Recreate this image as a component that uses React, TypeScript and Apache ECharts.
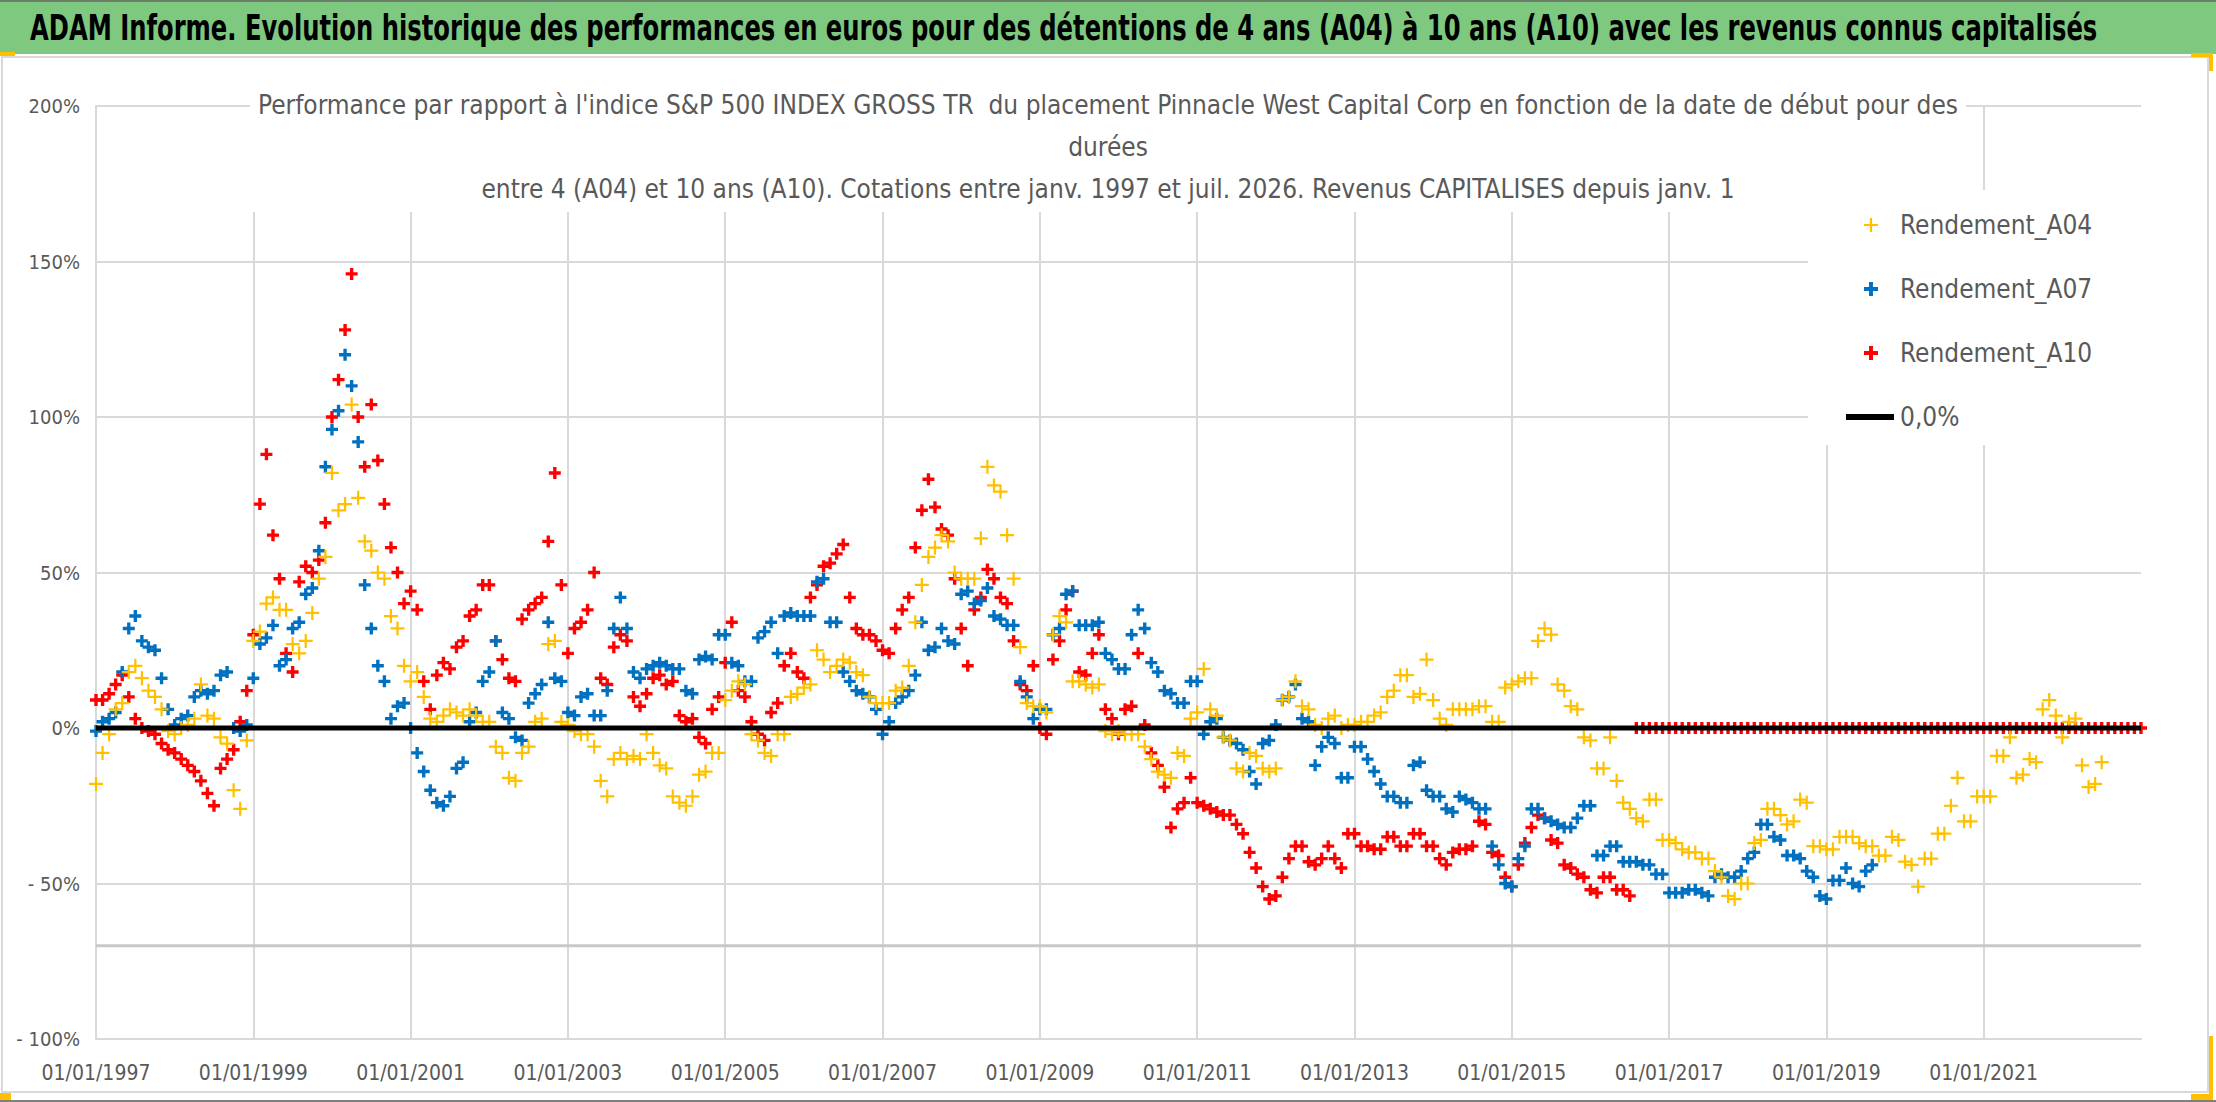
import React, { useEffect, useRef } from 'react';
import * as echarts from 'echarts';

// monthly values (%), first point = 01/01/1997
const START_YEAR = 1997;

const A04_VALUES = [
  -18, -8, -2, 6, 8, 18, 20, 16, 12, 10, 6, -1,
  -2, 0, 1, 3, 14, 4, 3, -3, -5, -20, -26, -4,
  28, 31, 40, 42, 38, 38, 27, 24, 28, 37, 48, 55,
  82, 70, 72, 104, 74, 60, 57, 50, 48, 36, 32, 20,
  15, 18, 10, 3, 2, 4, 6, 5, 4, 6, 4, 2,
  2, -6, -8, -16, -17, -8, -6, 2, 3, 27, 28, 2,
  1, -1, -2, -2, -6, -17, -22, -10, -8, -10, -9, -10,
  -2, -8, -12, -13, -22, -24, -25, -22, -15, -14, -8, -8,
  9, 12, 15, 14, -2, -4, -8, -9, -2, -2, 10, 11,
  13, 14, 25, 22, 18, 20, 22, 21, 18, 17, 10, 8,
  8, 8, 12, 13, 20, 34, 46, 55, 58, 62, 60, 50,
  48, 48, 48, 61, 84, 78, 76, 62, 48, 26, 8, 7,
  7, 5, 30, 36, 34, 15, 15, 14, 13, 14, -1, -2,
  -1, -2, -2, -2, -6, -10, -14, -15, -16, -8, -9, 3,
  5, 19, 6, 4, -3, -4, -13, -14, -8, -9, -13, -14,
  -13, 9, 10, 15, 7, 6, 1, 0, 3, 4, 0, 1,
  1, 2, 2, 4, 5, 10, 12, 17, 17, 10, 11, 22,
  9, 3, 1, 6, 6, 6, 6, 7, 7, 2, 2, 13,
  14, 15, 16, 16, 28, 32, 30, 14, 12, 7, 6, -3,
  -4, -13, -13, -3, -17, -24, -26, -29, -30, -23, -23, -36,
  -36, -37, -39, -40, -40, -42, -42, -46, -48, -54, -55, -50,
  -50, -37, -36, -26, -26, -28, -31, -30, -23, -24, -38, -38,
  -39, -39, -35, -35, -35, -37, -38, -38, -41, -41, -35, -36,
  -43, -44, -51, -42, -42, -34, -34, -25, -16, -30, -30, -22,
  -22, -22, -9, -9, -3, -16, -15, -10, -11, 6, 9, 4,
  -3, 2, 3, -12, -19, -18, -11,
];

const A07_VALUES = [
  -1, 2, 3, 5, 18, 32, 36, 28, 26, 25, 16, 6,
  1, 3, 4, 10, 12, 11, 12, 17, 18, 0, -1, 1,
  16, 27, 29, 33, 20, 22, 32, 34, 43, 45, 57, 84,
  96, 102, 120, 110, 92, 46, 32, 20, 15, 3, 7, 8,
  0, -8, -14, -20, -24, -25, -22, -13, -11, 2, 5, 15,
  18, 28, 5, 3, -3, -4, 8, 11, 14, 34, 16, 15,
  5, 4, 10, 11, 4, 4, 12, 32, 42, 32, 18, 16,
  19, 20, 21, 20, 19, 19, 12, 11, 22, 23, 22, 30,
  30, 21, 20, 15, 15, 29, 31, 34, 24, 36, 37, 36,
  36, 36, 47, 48, 34, 34, 18, 15, 12, 11, 10, 6,
  -2, 2, 8, 10, 12, 17, 34, 25, 26, 32, 28, 27,
  43, 44, 40, 41, 45, 36, 35, 33, 33, 15, 10, 3,
  6, 6, 30, 32, 43, 44, 33, 33, 33, 34, 24, 22,
  19, 19, 30, 38, 32, 21, 18, 12, 11, 8, 8, 15,
  15, -2, 2, 3, -3, -4, -5, -7, -14, -18, -5, -4,
  1, 9, 10, 14, 3, 2, -12, -6, -3, -5, -16, -16,
  -6, -6, -10, -14, -18, -22, -22, -24, -24, -12, -11, -20,
  -22, -22, -26, -27, -22, -23, -24, -26, -26, -38, -44, -50,
  -51, -42, -38, -26, -26, -29, -30, -31, -32, -32, -29, -25,
  -25, -41, -41, -38, -38, -43, -43, -43, -44, -44, -47, -47,
  -53, -53, -53, -52, -52, -53, -54, -48, -47, -48, -48, -46,
  -42, -40, -31, -31, -35, -36, -41, -41, -42, -46, -48, -54,
  -55, -49, -49, -45, -50, -51, -46, -44,
];

const A10_VALUES = [
  9, 9, 11, 14, 17, 10, 3, 0, -1, -2, -5, -7,
  -8, -10, -12, -14, -17, -21, -25, -13, -10, -7, 2, 12,
  30, 72, 88, 62, 48, 24, 18, 47, 52, 50, 54, 66,
  100, 112, 128, 146, 100, 84, 104, 86, 72, 58, 50, 40,
  44, 38, 15, 6, 17, 21, 19, 26, 28, 36, 38, 46,
  46, 28, 22, 16, 15, 35, 38, 40, 42, 60, 82, 46,
  24, 32, 34, 38, 50, 16, 14, 26, 30, 28, 10, 7,
  11, 16, 17, 14, 15, 4, 2, 3, -3, -5, 6, 10,
  21, 34, 12, 10, 2, -2, -4, 5, 8, 20, 24, 18,
  16, 42, 46, 52, 53, 56, 59, 42, 32, 30, 30, 28,
  25, 24, 32, 38, 42, 58, 70, 80, 71, 64, 62, 48,
  32, 20, 38, 42, 51, 48, 42, 40, 28, 14, 12, 20,
  0, -2, 22, 28, 38, 44, 18, 17, 24, 30, 6, 3,
  -2, 6, 7, 24, 1, -8, -12, -19, -32, -26, -24, -16,
  -24, -25, -26, -27, -28, -28, -31, -34, -40, -45, -51, -55,
  -54, -48, -42, -38, -38, -43, -44, -42, -38, -42, -45, -34,
  -34, -38, -38, -39, -39, -35, -35, -38, -38, -34, -34, -38,
  -38, -42, -44, -40, -39, -39, -38, -30, -31, -40, -41, -48,
  -51, -44, -37, -32, -28, -29, -36, -37, -44, -45, -47, -48,
  -52, -53, -48, -48, -52, -52, -54, 0, 0, 0, 0, 0,
  0, 0, 0, 0, 0, 0, 0, 0, 0, 0, 0, 0,
  0, 0, 0, 0, 0, 0, 0, 0, 0, 0, 0, 0,
  0, 0, 0, 0, 0, 0, 0, 0, 0, 0, 0, 0,
  0, 0, 0, 0, 0, 0, 0, 0, 0, 0, 0, 0,
  0, 0, 0, 0, 0, 0, 0, 0, 0, 0, 0, 0,
  0, 0, 0, 0, 0, 0, 0, 0, 0, 0, 0, 0,
  0,
];

const ZERO_LINE = [[1997, 0], [2023, 0]];
const LOW_LINE = [[1997, -70], [2023, -70]];

const HEADER =
  'ADAM Informe. Evolution historique des performances en euros pour des détentions de 4 ans (A04) à 10 ans (A10) avec les revenus connus capitalisés';
const TITLE =
  "Performance par rapport à l'indice S&P 500 INDEX GROSS TR  du placement Pinnacle West Capital Corp en fonction de la date de début pour des\ndurées\nentre 4 (A04) et 10 ans (A10). Cotations entre janv. 1997 et juil. 2026. Revenus CAPITALISES depuis janv. 1";

const FONT = "'Liberation Sans Narrow', 'DejaVu Sans Condensed', sans-serif";
const GREY_TEXT = '#595959';
const GRID_COLOR = '#d9d9d9';

const PLUS_THIN = 'path://M4.2,0h1.6v4.2h4.2v1.6h-4.2v4.2h-1.6v-4.2h-4.2v-1.6h4.2z';
const PLUS_BOLD = 'path://M3.6,0h2.8v3.6h3.6v2.8h-3.6v3.6h-2.8v-3.6h-3.6v-2.8h3.6z';

const toPoints = (vals: number[]) => vals.map((v, i) => [START_YEAR + i / 12, v]);

const App: React.FC = () => {
  const chartRef = useRef<HTMLDivElement>(null);

  useEffect(() => {
    if (!chartRef.current) return;
    const chart = echarts.init(chartRef.current, undefined, { renderer: 'svg' });

    const option = {
      animation: false,
      backgroundColor: '#ffffff',
      title: {
        text: TITLE,
        left: 'center',
        top: 82,
        padding: [2, 8],
        backgroundColor: '#ffffff',
        textStyle: {
          fontFamily: FONT,
          fontWeight: 'normal',
          fontSize: 26,
          lineHeight: 42,
          color: GREY_TEXT,
        },
      },
      legend: [
        {
          data: [
            { name: 'Rendement_A04', icon: PLUS_THIN },
            { name: 'Rendement_A07', icon: PLUS_BOLD },
            { name: 'Rendement_A10', icon: PLUS_BOLD },
          ],
          orient: 'vertical',
          left: 1864,
          top: 212,
          padding: 0,
          itemWidth: 14,
          itemHeight: 14,
          itemGap: 38,
          selectedMode: false,
          textStyle: {
            fontFamily: FONT,
            fontSize: 26,
            lineHeight: 26,
            color: GREY_TEXT,
            padding: [0, 0, 0, 17],
          },
        },
        {
          data: [{ name: '0,0%', icon: 'rect' }],
          orient: 'vertical',
          left: 1846,
          top: 404,
          padding: 0,
          itemWidth: 48,
          itemHeight: 6,
          selectedMode: false,
          textStyle: {
            fontFamily: FONT,
            fontSize: 26,
            lineHeight: 26,
            color: GREY_TEXT,
            padding: [0, 0, 0, 1],
          },
        },
      ],
      grid: { left: 96, right: 75, top: 106, bottom: 63 },
      xAxis: {
        type: 'value',
        min: 1997,
        max: 2023,
        interval: 2,
        axisLine: { show: true, onZero: false, lineStyle: { color: GRID_COLOR, width: 2 } },
        axisTick: { show: false },
        axisLabel: {
          margin: 23,
          fontFamily: FONT,
          fontSize: 21,
          color: GREY_TEXT,
          formatter: (v: number) => (v < 2023 ? '01/01/' + v : ''),
        },
        splitLine: { show: true, showMaxLine: false, lineStyle: { color: GRID_COLOR, width: 2 } },
      },
      yAxis: {
        type: 'value',
        min: -100,
        max: 200,
        interval: 50,
        axisLine: { show: true, lineStyle: { color: GRID_COLOR, width: 2 } },
        axisTick: { show: false },
        axisLabel: {
          margin: 16,
          fontFamily: FONT,
          fontSize: 20,
          color: GREY_TEXT,
          formatter: (v: number) => (v < 0 ? '- ' + Math.abs(v) + '%' : v + '%'),
        },
        splitLine: { show: true, lineStyle: { color: GRID_COLOR, width: 2 } },
      },
      graphic: [
        { type: 'rect', z: 1, shape: { x: 1808, y: 190, width: 333, height: 255 }, style: { fill: '#ffffff' } },
        { type: 'rect', z: 0, silent: true, shape: { x: 2, y: 57, width: 2206, height: 1035 }, style: { fill: 'none', stroke: GRID_COLOR, lineWidth: 2 } },
        { type: 'rect', z: 10, shape: { x: 0, y: 0, width: 2216, height: 54 }, style: { fill: '#7ec87f' } },
        { type: 'rect', z: 11, shape: { x: 0, y: 0, width: 2216, height: 2 }, style: { fill: '#6b7f6b' } },
        { type: 'rect', z: 11, shape: { x: 0, y: 1100, width: 2216, height: 2 }, style: { fill: '#7f7f7f' } },
        { type: 'rect', z: 11, shape: { x: 0, y: 52, width: 15, height: 4 }, style: { fill: '#ffc000' } },
        { type: 'rect', z: 11, shape: { x: 2191, y: 53, width: 21, height: 4 }, style: { fill: '#ffc000' } },
        { type: 'rect', z: 11, shape: { x: 2209, y: 53, width: 4, height: 18 }, style: { fill: '#ffc000' } },
        { type: 'rect', z: 11, shape: { x: 2209, y: 1036, width: 4, height: 64 }, style: { fill: '#ffc000' } },
        { type: 'rect', z: 11, shape: { x: 2191, y: 1094, width: 22, height: 6 }, style: { fill: '#ffc000' } },
        { type: 'rect', z: 11, shape: { x: 0, y: 1093, width: 11, height: 7 }, style: { fill: '#ffc000' } },
        {
          type: 'text',
          z: 12,
          x: 30,
          y: 28,
          scaleX: 0.77,
          style: {
            text: HEADER,
            fontFamily: FONT,
            fontWeight: 'bold',
            fontSize: 35,
            fill: '#000000',
            verticalAlign: 'middle',
            textAlign: 'left',
          },
        },
      ],
      series: [
        {
          name: 'niveau',
          type: 'line',
          data: LOW_LINE,
          symbol: 'none',
          silent: true,
          lineStyle: { color: '#c8c8c8', width: 3 },
          z: 1,
        },
        {
          name: '0,0%',
          type: 'line',
          data: ZERO_LINE,
          symbol: 'none',
          silent: true,
          itemStyle: { color: '#000000' },
          lineStyle: { color: '#000000', width: 5 },
        },
        {
          name: 'Rendement_A10',
          type: 'scatter',
          data: toPoints(A10_VALUES),
          symbol: PLUS_BOLD,
          symbolSize: 12,
          itemStyle: { color: '#ff0000', opacity: 1 },
        },
        {
          name: 'Rendement_A07',
          type: 'scatter',
          data: toPoints(A07_VALUES),
          symbol: PLUS_BOLD,
          symbolSize: 12,
          itemStyle: { color: '#0070c0', opacity: 1 },
        },
        {
          name: 'Rendement_A04',
          type: 'scatter',
          data: toPoints(A04_VALUES),
          symbol: PLUS_THIN,
          symbolSize: 14,
          itemStyle: { color: '#ffc000', opacity: 1 },
        },
      ],
    };

    chart.setOption(option);
    return () => {
      chart.dispose();
    };
  }, []);

  return (
    <div
      ref={chartRef}
      style={{ position: 'absolute', left: 0, top: 0, width: '2216px', height: '1102px' }}
    />
  );
};

export default App;
